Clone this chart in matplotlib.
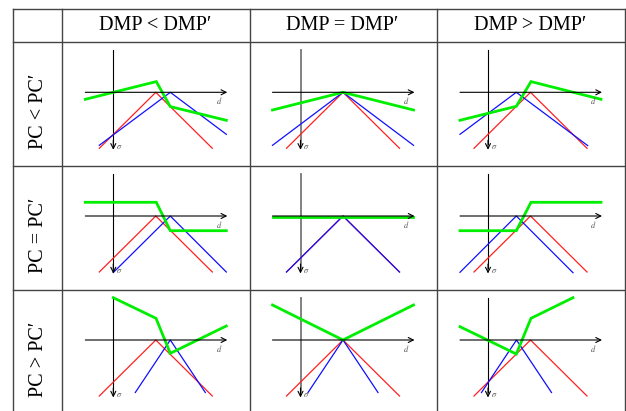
import matplotlib.pyplot as plt

plt.rcParams['font.family'] = ['Liberation Serif', 'DejaVu Serif']
plt.rcParams['mathtext.fontset'] = 'stix'

# header texts
col_labels = ["DMP < DMP\u2032", "DMP = DMP\u2032", "DMP > DMP\u2032"]
row_labels = ["PC < PC\u2032", "PC = PC\u2032", "PC > PC\u2032"]

# every diagram is in local pixel units: origin = axes crossing, sigma grows downward
red_x = [-14, 42.5, 99]
red_y = [56, 0, 56]

# blue, one list per cell, row by row
blue_x = [
    [-14, 57, 113], [-28, 42.5, 113], [-28, 28.3, 99.7],
    [0, 57, 113], [-14, 42.5, 99], [-28, 28.3, 85],
    [22, 57, 92], [7.5, 42.5, 77.5], [-6.5, 28.5, 63.5],
]
blue_y = [
    [53, 0, 42], [53, 0, 53], [42, 0, 53.3],
    [56.5, 0, 56], [56, 0, 56], [56.3, 0, 56.7],
    [52.5, 0, 52.5], [52.5, 0, 52.5], [52.5, 0, 52.5],
]

# green
green_x = [
    [-28, 43, 57, 113], [-28, 42.5, 113], [-28, 28.3, 43, 113],
    [-28, 43, 57, 113], [-28, 113], [-28, 28.3, 43, 113],
    [0, 42.7, 57, 113], [-28, 42.5, 113], [-28, 28.3, 43, 85],
]
green_y = [
    [7, -10.7, 14.3, 28], [17.7, 0, 17.7], [28, 14, -10.7, 7],
    [-13.7, -13.7, 14.7, 14.7], [1, 1], [14.7, 14.7, -13.7, -13.7],
    [-42.3, -21.7, 13.3, -14], [-35, 0, -35], [-13.3, 14, -21.7, -42.3],
]

W, H = 626, 411
col_edges = [62.3, 249.5, 437, 624.7]
row_edges = [42.3, 166, 290, 414]
origin_dx = 51   # axes crossing, from cell left
origin_dy = 50   # axes crossing, from cell top

fig = plt.figure(figsize=(W / 100, H / 100), dpi=100)
bg = fig.add_axes([0, 0, 1, 1])
bg.set_xlim(0, W)
bg.set_ylim(H, 0)
bg.axis('off')

# table grid
lc = '#444444'
bg.plot([13.3, 624.7], [9, 9], color=lc, lw=1.0)
bg.plot([13.3, 13.3], [9, H], color=lc, lw=1.0)
for x in col_edges:
    bg.plot([x, x], [9, H], color=lc, lw=1.0)
for y in row_edges[:-1]:
    bg.plot([13.3, 624.7], [y, y], color=lc, lw=1.0)

for i, lab in enumerate(col_labels):
    bg.text((col_edges[i] + col_edges[i + 1]) / 2 - 1, 26, lab, ha='center', va='center', fontsize=14.6)
for i, lab in enumerate(row_labels):
    bg.text(38.5, (row_edges[i] + row_edges[i + 1]) / 2 + 7, lab, ha='center', va='center',
            fontsize=14.6, rotation=90)

for r in range(3):
    for c in range(3):
        k = r * 3 + c
        x0, x1 = col_edges[c], col_edges[c + 1]
        y0, y1 = row_edges[r], row_edges[r + 1]
        ax = fig.add_axes([x0 / W, 1 - y1 / H, (x1 - x0) / W, (y1 - y0) / H])
        ax.set_xlim(-origin_dx, x1 - x0 - origin_dx)
        ax.set_ylim(y1 - y0 - origin_dy, -origin_dy)
        ax.axis('off')

        vcol = '#777777' if c == 1 else 'black'
        vlw = 1.3 if c == 1 else 0.8
        ax.annotate('', xy=(114, 0), xytext=(-28, 0),
                    arrowprops=dict(arrowstyle='->', lw=0.8, color='black', mutation_scale=9,
                                    shrinkA=0, shrinkB=0))
        ax.plot([0, 0], [-42, 52], color=vcol, lw=vlw)
        ax.annotate('', xy=(0, 57.5), xytext=(0, 48),
                    arrowprops=dict(arrowstyle='->', lw=0.8, color='black', mutation_scale=9,
                                    shrinkA=0, shrinkB=0))
        ax.text(105.5, 8, '$d$', fontsize=6, color='#555555', ha='center', va='center')
        ax.text(6, 55, r'$\sigma$', fontsize=6, color='#555555', ha='center', va='center')

        ax.plot(red_x, red_y, color='#ff2020', lw=0.9)
        ax.plot(blue_x[k], blue_y[k], color='#1010ff', lw=0.9)
        ax.plot(green_x[k], green_y[k], color='#00ee00', lw=2.0, solid_joinstyle='miter')

fig.savefig('out.png', dpi=100)
